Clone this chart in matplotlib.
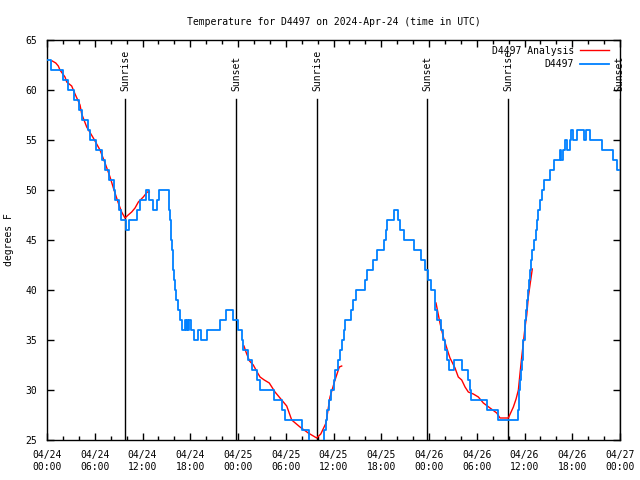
import numpy as np
import matplotlib
matplotlib.use("Agg")
import matplotlib.pyplot as plt
from matplotlib.ticker import MultipleLocator

# ---- data (hours since 2024-04-24 00:00 UTC) ----
blue_hours = [0.0, 0.5, 1.95, 2.7, 3.35, 4.0, 4.45, 5.1, 5.45, 6.1, 6.93, 7.3, 7.85, 8.38, 8.6,
              9.0, 9.35, 9.9, 10.35, 11.3, 11.65, 12.4, 12.8, 13.3, 13.82, 14.1, 15.28, 15.45,
              15.55, 15.63, 15.7, 15.78, 15.85, 15.93, 16.05, 16.2, 16.45, 16.65, 17.0, 17.3,
              17.45, 17.6, 17.75, 17.9, 18.05, 18.5, 19.0, 19.4, 20.15, 21.7, 22.45, 23.35,
              24.0, 24.5, 24.65, 25.2, 25.75, 26.4, 26.8, 28.5, 29.48, 29.85, 32.0, 32.95,
              34.8, 35.0, 35.15, 35.4, 35.7, 36.0, 36.25, 36.55, 36.8, 37.1, 37.3, 37.5, 38.2,
              38.45, 38.85, 39.95, 40.2, 40.95, 41.5, 42.4, 42.55, 42.7, 43.55, 44.05, 44.4,
              44.9, 46.15, 46.95, 47.45, 47.85, 48.3, 48.7, 48.8, 49.05, 49.55, 49.7, 49.95,
              50.3, 50.5, 51.2, 52.15, 52.9, 53.1, 53.25, 55.3, 56.7, 59.15, 59.25, 59.35,
              59.48, 59.6, 59.68, 59.75, 59.82, 60.0, 60.12, 60.22, 60.33, 60.45, 60.55, 60.7,
              60.85, 61.0, 61.25, 61.4, 61.52, 61.75, 61.95, 62.2, 62.5, 63.2, 63.75, 64.4,
              64.62, 64.85, 65.05, 65.4, 65.68, 65.82, 66.1, 66.6, 67.45, 67.75, 68.25, 69.78,
              71.1, 71.65, 71.95]
blue_temps = [63, 62, 61, 60, 59, 58, 57, 56, 55, 54, 53, 52, 51, 50, 49,
              48, 47, 46, 47, 48, 49, 50, 49, 48, 49, 50, 48, 47,
              46, 45, 44, 43, 42, 41, 40, 39, 38, 37, 36, 37,
              36, 37, 36, 37, 36, 35, 36, 35, 36, 37, 38, 37,
              36, 35, 34, 33, 32, 31, 30, 29, 28, 27, 26, 24,
              26, 27, 28, 29, 30, 31, 32, 33, 34, 35, 36, 37, 38,
              39, 40, 41, 42, 43, 44, 45, 46, 47, 48, 47, 46,
              45, 44, 43, 42, 41, 40, 39, 38, 37, 36, 35, 34,
              33, 32, 33, 32, 31, 30, 29, 28, 27, 28, 29, 30,
              31, 32, 33, 34, 35, 36, 37, 38, 39, 40, 41, 42,
              43, 44, 45, 46, 47, 48, 49, 50, 51, 52, 53, 54,
              53, 54, 55, 54, 55, 56, 55, 56, 55, 56, 55, 54,
              53, 52, 52]

red_hours = [0.67, 1.1, 1.42, 1.63, 2.26, 2.48, 3.1, 3.52, 4.15, 4.36, 4.99, 5.82, 6.66, 7.29,
             7.92, 8.42, 8.96, 9.38, 9.8, 10.2, 10.64, 11.06, 11.48, 12.1, 12.6, 12.86,
             np.nan,
             24.75, 25.05, 25.45, 25.92, 26.4, 26.77, 27.3, 27.93, 28.65, 29.28, 30.12, 30.75,
             31.79, 32.83, 33.89, 34.4, 35.06, 35.56, 36.19, 36.73, 37.03,
             np.nan,
             48.88, 49.38, 49.8, 50.43, 50.64, 51.27, 51.68, 52.11, 52.53, 52.94, 53.57, 54.2,
             54.83, 55.67, 56.51, 56.92, 57.97, 58.6, 58.94, 59.23, 59.44, 59.65, 59.85, 60.07,
             60.28, 60.48, 60.69, 60.98]
red_temps = [62.9, 62.7, 62.4, 62.0, 61.3, 60.8, 60.4, 59.6, 58.5, 57.6, 56.3, 55.2, 54.0, 52.7,
             51.3, 50.0, 48.7, 47.8, 47.2, 47.5, 47.8, 48.2, 48.8, 49.3, 49.8, 49.8,
             np.nan,
             34.4, 33.7, 32.9, 32.5, 31.8, 31.3, 31.0, 30.7, 29.8, 29.2, 28.4, 27.0,
             26.3, 25.7, 25.2, 25.6, 26.7, 29.3, 31.0, 32.3, 32.4,
             np.nan,
             38.7, 36.7, 35.3, 33.7, 33.2, 32.2, 31.3, 31.0, 30.3, 29.8, 29.6, 29.3,
             28.7, 28.2, 27.7, 27.2, 27.2, 28.3, 29.1, 30.0, 31.7, 33.3, 34.7, 36.3,
             37.5, 39.3, 40.5, 42.1]

sun_hours = [9.84, 23.79, 33.97, 47.75, 57.93, 71.94]
sun_labels = ["Sunrise", "Sunset", "Sunrise", "Sunset", "Sunrise", "Sunset"]

xtick_hours = [0, 6, 12, 18, 24, 30, 36, 42, 48, 54, 60, 66, 72]
xtick_labels = ["04/24\n00:00", "04/24\n06:00", "04/24\n12:00", "04/24\n18:00",
                "04/25\n00:00", "04/25\n06:00", "04/25\n12:00", "04/25\n18:00",
                "04/26\n00:00", "04/26\n06:00", "04/26\n12:00", "04/26\n18:00",
                "04/27\n00:00"]
ytick_values = [25, 30, 35, 40, 45, 50, 55, 60, 65]

# ---- figure ----
plt.rcParams['font.family'] = ['DejaVu Sans Mono']
FS = 7
fig = plt.figure(figsize=(6.4, 4.8), dpi=100)
ax = fig.add_axes([47/640, 40/480, 573/640, 400/480])

ax.plot(red_hours, red_temps, color='#ff0000', lw=1.0, label='D4497 Analysis', zorder=3)
ax.plot(blue_hours, blue_temps, color='#0080ff', lw=1.3, drawstyle='steps-post',
        label='D4497', zorder=4)

for h, lab in zip(sun_hours, sun_labels):
    ax.plot([h, h], [25, 59.1], color='black', lw=1.0, zorder=2)
    ax.text(h, 59.85, lab, rotation=90, ha='center', va='bottom', fontsize=FS)

ax.set_xlim(0, 72)
ax.set_ylim(25, 65)
ax.set_xticks(xtick_hours)
ax.set_xticklabels(xtick_labels, fontsize=FS, linespacing=1.25)
ax.xaxis.set_minor_locator(MultipleLocator(2))
ax.set_yticks(ytick_values)
ax.set_yticklabels([str(v) for v in ytick_values], fontsize=FS)
ax.tick_params(axis='both', which='major', direction='in', length=5, width=1,
               top=True, right=True, pad=7)
ax.tick_params(axis='x', which='minor', direction='in', length=3, width=1, top=True)
ax.tick_params(axis='x', which='major', pad=7)
for s in ax.spines.values():
    s.set_linewidth(1.0)

ax.set_title('Temperature for D4497 on 2024-Apr-24 (time in UTC)', fontsize=FS, pad=11)
ax.set_ylabel('degrees F', fontsize=FS, labelpad=8)

leg = ax.legend(loc='upper right', bbox_to_anchor=(1 - 7/573, 1 - 2/400), frameon=False,
                markerfirst=False, fontsize=FS, handlelength=3.0, handletextpad=0.6,
                labelspacing=0.35, borderaxespad=0.2, borderpad=0.2)

fig.savefig('out.png', dpi=100)
